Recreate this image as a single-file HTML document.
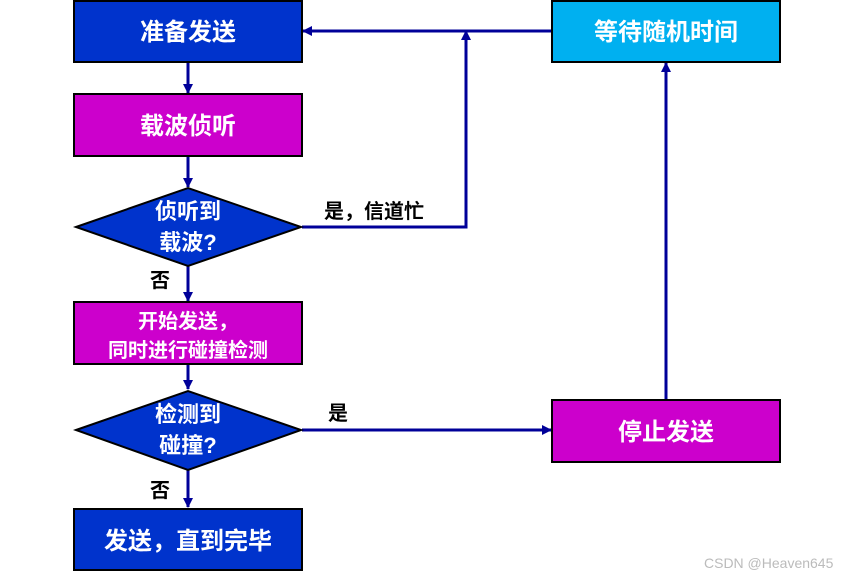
<!DOCTYPE html>
<html><head><meta charset="utf-8"><style>
body{margin:0;background:#fff;width:854px;height:576px;overflow:hidden}
text{font-family:"Liberation Sans","Noto Sans CJK SC",sans-serif;font-weight:bold}
</style></head><body>
<svg width="854" height="576" xmlns="http://www.w3.org/2000/svg">
<defs><marker id="a" markerWidth="10" markerHeight="10" refX="9" refY="5" orient="auto" markerUnits="userSpaceOnUse"><path d="M0,0L10,5L0,10z" fill="#000099"/></marker></defs>
<g stroke="#000099" stroke-width="3" fill="none">
<line x1="188" y1="62" x2="188" y2="93" marker-end="url(#a)"/>
<line x1="188" y1="156" x2="188" y2="187" marker-end="url(#a)"/>
<line x1="188" y1="266" x2="188" y2="301" marker-end="url(#a)"/>
<line x1="188" y1="364" x2="188" y2="389" marker-end="url(#a)"/>
<line x1="188" y1="470" x2="188" y2="507" marker-end="url(#a)"/>
<polyline points="302,227 466,227 466,31"/>
<line x1="466" y1="40" x2="466" y2="31" marker-end="url(#a)"/>
<line x1="552" y1="31" x2="303" y2="31" marker-end="url(#a)"/>
<line x1="302" y1="430" x2="551" y2="430" marker-end="url(#a)"/>
<line x1="666" y1="400" x2="666" y2="63" marker-end="url(#a)"/>
</g>
<g stroke="#000" stroke-width="2">
<rect x="74" y="1" width="228" height="61" fill="#0033cc"/>
<rect x="74" y="94" width="228" height="62" fill="#cc00cc"/>
<polygon points="76,227 188,188 301,227 188,266" fill="#0033cc"/>
<rect x="74" y="302" width="228" height="62" fill="#cc00cc"/>
<polygon points="76,430 188,391 301,430 188,470" fill="#0033cc"/>
<rect x="74" y="509" width="228" height="61" fill="#0033cc"/>
<rect x="552" y="1" width="228" height="61" fill="#00b0f0"/>
<rect x="552" y="400" width="228" height="62" fill="#cc00cc"/>
</g>
<g fill="#fff" text-anchor="middle" font-size="24">
<text x="188" y="40">准备发送</text>
<text x="188" y="134">载波侦听</text>
<text x="188" y="219" font-size="22">侦听到</text>
<text x="188" y="250" font-size="22">载波?</text>
<text x="188" y="328" font-size="20">开始发送，</text>
<text x="188" y="357" font-size="20">同时进行碰撞检测</text>
<text x="188" y="422" font-size="22">检测到</text>
<text x="188" y="453" font-size="22">碰撞?</text>
<text x="188" y="549">发送，直到完毕</text>
<text x="666" y="40">等待随机时间</text>
<text x="666" y="440">停止发送</text>
</g>
<g fill="#000" font-size="20">
<text x="324" y="218">是，信道忙</text>
<text x="150" y="287">否</text>
<text x="328" y="420">是</text>
<text x="150" y="497">否</text>
</g>
<text x="704" y="568" font-size="14" fill="#bbb" style="font-weight:normal">CSDN @Heaven645</text>
</svg>
</body></html>
